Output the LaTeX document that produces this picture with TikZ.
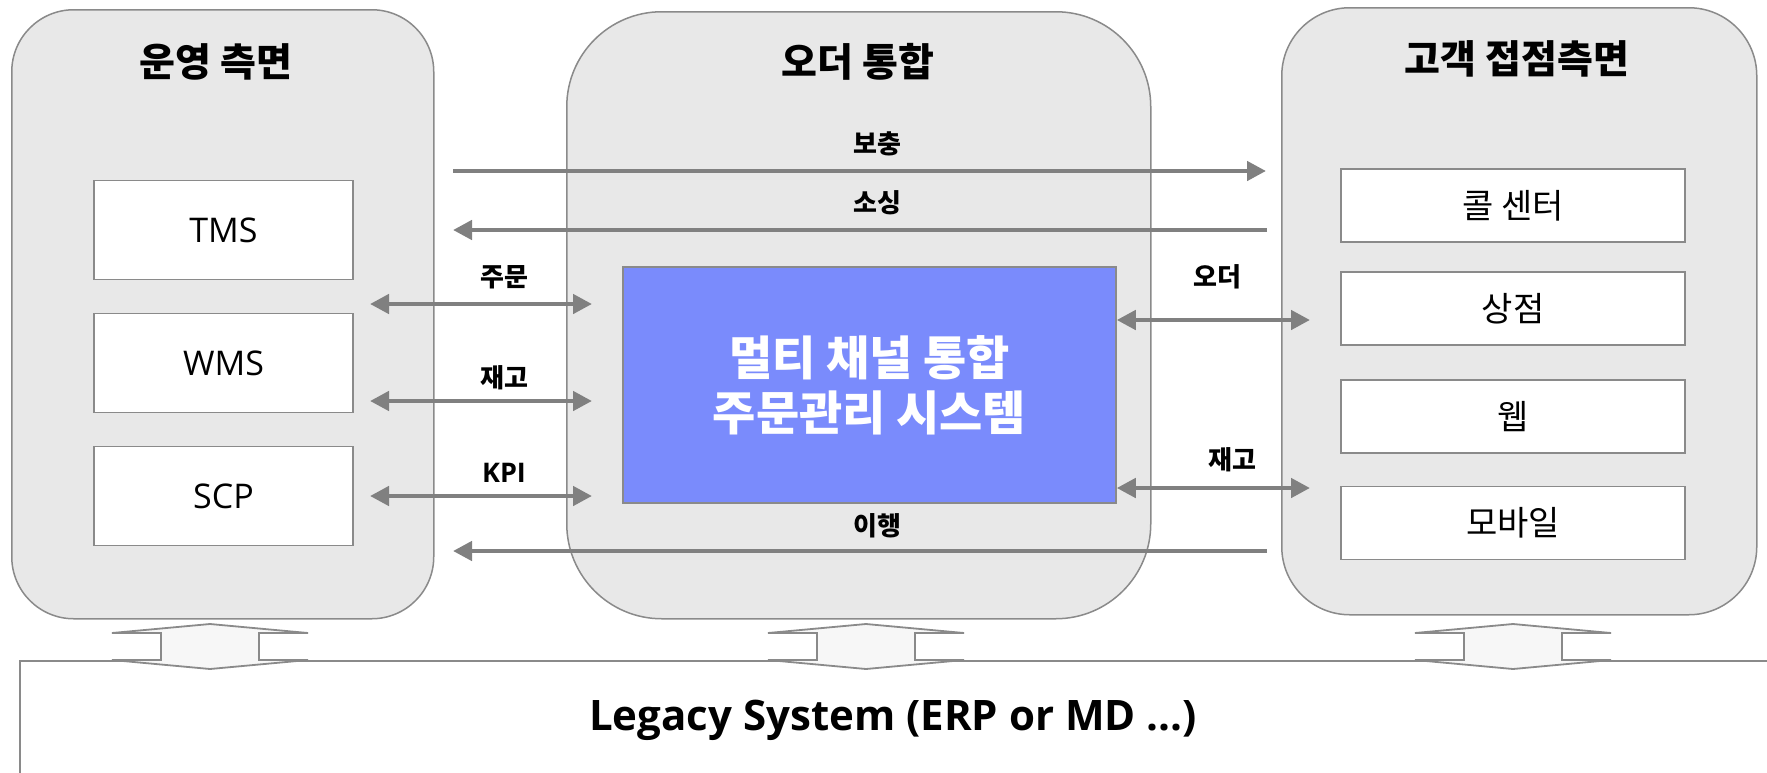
\documentclass[tikz,border=0pt]{standalone}
\usepackage{fontspec}
\setmainfont{Open Sans}
\newfontfamily\kr{Noto Sans CJK KR}
\usetikzlibrary{arrows.meta, positioning}

\definecolor{panelgray}{HTML}{E8E8E8}
\definecolor{linegray}{HTML}{8A8A8A}
\definecolor{arrowgray}{HTML}{808080}
\definecolor{omsblue}{HTML}{7A8BFC}
\definecolor{syncfill}{HTML}{F7F7F7}

\begin{document}
\begin{tikzpicture}[x=1pt, y=-1pt]
    % Define styles
    \tikzstyle{panel} = [rectangle, anchor=north west, inner sep=0pt, draw=linegray, fill=panelgray, line width=1.5pt]
    \tikzstyle{paneltitle} = [font=\kr\bfseries\fontsize{39}{46}\selectfont]
    \tikzstyle{sysbox} = [rectangle, minimum width=259pt, minimum height=99pt, text centered, draw=linegray, fill=white, line width=1.5pt, font=\fontsize{34}{40}\selectfont]
    \tikzstyle{channelbox} = [rectangle, minimum width=344pt, minimum height=73pt, text centered, draw=linegray, fill=white, line width=1.5pt, font=\kr\fontsize{34}{40}\selectfont]
    \tikzstyle{omsbox} = [rectangle, minimum width=493pt, minimum height=236pt, align=center, draw=linegray, fill=omsblue, line width=1.5pt, text=white, font=\kr\bfseries\fontsize{47}{55}\selectfont]
    \tikzstyle{flowlabel} = [font=\kr\bfseries\fontsize{26}{30}\selectfont]
    \tikzstyle{arrow} = [draw=arrowgray, line width=4.5pt, -{Triangle[length=19pt, width=19pt]}]
    \tikzstyle{doublearrow} = [draw=arrowgray, line width=4.5pt, {Triangle[length=19pt, width=19pt]}-{Triangle[length=19pt, width=19pt]}]
    \tikzstyle{syncarrow} = [draw=linegray, fill=syncfill, line width=1.8pt, line join=miter]

    \useasboundingbox (0,0) rectangle (1767,772);
    \clip (0,0) rectangle (1767,772);

    % Panels
    \node (ops) [panel, minimum width=422pt, minimum height=609pt, rounded corners=62pt] at (11,9) {};
    \node (order) [panel, minimum width=584pt, minimum height=607pt, rounded corners=95pt] at (566,11) {};
    \node (cust) [panel, minimum width=475pt, minimum height=607pt, rounded corners=68pt] at (1281,7) {};

    \node (opstitle) [paneltitle] at (216,62) {운영 측면};
    \node (ordertitle) [paneltitle] at (858,62) {오더 통합};
    \node (custtitle) [paneltitle] at (1517,59) {고객 접점측면};

    % Operation systems
    \node (tms) [sysbox] at (223.5,230) {TMS};
    \node (wms) [sysbox] at (223.5,363) {WMS};
    \node (scp) [sysbox] at (223.5,496) {SCP};

    % Customer channels
    \node (callcenter) [channelbox] at (1513,205.5) {콜 센터};
    \node (store) [channelbox] at (1513,308.5) {상점};
    \node (web) [channelbox] at (1513,416.5) {웹};
    \node (mobile) [channelbox] at (1513,523) {모바일};

    % Central system
    \node (oms) [omsbox] at (869.5,385) {멀티 채널 통합\\ 주문관리 시스템};

    % Arrow end points
    \coordinate (refillL) at (453,171);
    \coordinate (refillR) at (1266,171);
    \coordinate (sourceL) at (453,230);
    \coordinate (sourceR) at (1267,230);
    \coordinate (fulfilL) at (453,551);
    \coordinate (fulfilR) at (1267,551);
    \coordinate (orderL) at (370,304);
    \coordinate (orderM) at (592,304);
    \coordinate (stockL) at (370,401);
    \coordinate (stockM) at (592,401);
    \coordinate (kpiL) at (370,496);
    \coordinate (kpiM) at (592,496);
    \coordinate (chanorder) at (1310,320);
    \coordinate (chanstock) at (1310,488);

    % Flows across the panels
    \draw [arrow] (refillL) -- (refillR);
    \draw [arrow] (sourceR) -- (sourceL);
    \draw [arrow] (fulfilR) -- (fulfilL);
    \draw [doublearrow] (orderL) -- (orderM);
    \draw [doublearrow] (stockL) -- (stockM);
    \draw [doublearrow] (kpiL) -- (kpiM);
    \draw [doublearrow] (oms.east |- chanorder) -- (chanorder);
    \draw [doublearrow] (oms.east |- chanstock) -- (chanstock);

    % Flow labels
    \node (lblrefill) [flowlabel] at (877,144) {보충};
    \node (lblsource) [flowlabel] at (877,203) {소싱};
    \node (lblfulfil) [flowlabel] at (877,526) {이행};
    \node (lblorder) [flowlabel] at (504,277) {주문};
    \node (lblstock) [flowlabel] at (504,378) {재고};
    \node (lblkpi) [flowlabel, font=\bfseries\fontsize{27}{30}\selectfont] at (504,473) {KPI};
    \node (lblchanorder) [flowlabel] at (1217,277) {오더};
    \node (lblchanstock) [flowlabel] at (1232,460) {재고};

    % Legacy layer
    \node (legacy) [rectangle, anchor=north west, inner sep=0pt, minimum width=1800pt, minimum height=200pt, draw=linegray, line width=1.5pt] at (19,660) {};
    \node (legacytext) [font=\bfseries\fontsize{42}{48}\selectfont] at (893,720) {Legacy System (ERP or MD ...)};

    % Sync arrows to the legacy layer
    \foreach \cx in {210,866,1513} {
        \draw [syncarrow] (\cx,624) -- ++(98,9) -- ++(-49,0) -- ++(0,27) -- ++(49,0)
            -- ++(-98,9) -- ++(-98,-9) -- ++(49,0) -- ++(0,-27) -- ++(-49,0) -- cycle;
    }
\end{tikzpicture}
\end{document}
